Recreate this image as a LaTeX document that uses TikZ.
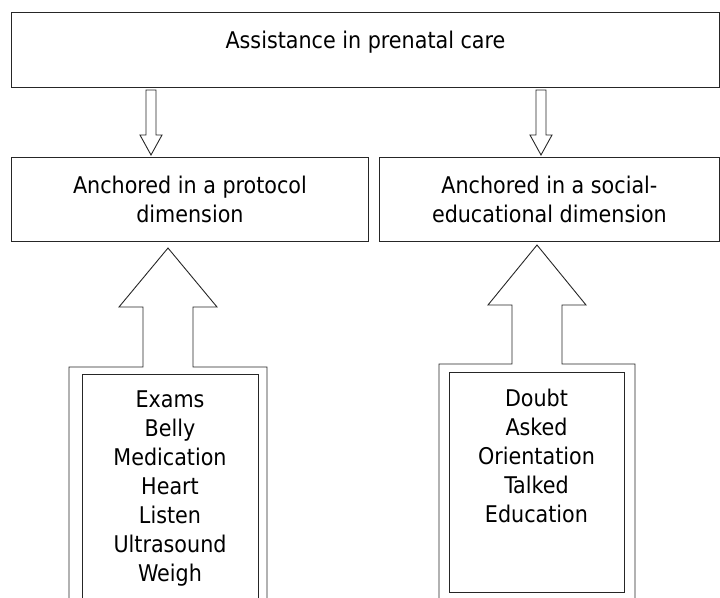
\documentclass[tikz,border=0pt]{standalone}
\usepackage{fontspec}
\setmainfont{DejaVu Sans Condensed}
\usetikzlibrary{positioning}

\tikzset{
  box/.style={draw=black!85,line width=0.9pt,inner sep=0pt},
  frame/.style={draw=black!85,line width=0.9pt},
}

\begin{document}
\begin{tikzpicture}[x=1pt,y=-1pt,font=\fontsize{23}{29}\selectfont]
  \useasboundingbox (0,0) rectangle (720,597);
  \clip (0,0) rectangle (720,597);

  \node[box,anchor=north west,minimum width=708pt,text height=36pt,text depth=39pt] (care) at (11,12) {Assistance in prenatal care};
  \node[box,anchor=north west,minimum width=357pt,minimum height=84pt,align=center] (protocol) at (11,157) {Anchored in a protocol\\dimension};
  \node[box,anchor=north west,minimum width=340pt,minimum height=84pt,align=center] (social) at (379,157) {Anchored in a social-\\educational dimension};

  % hollow arrows from the top box
  \foreach \x in {151,541}
    \draw[frame] (\x,90) ++(-5,0) -- ++(10,0) -- ++(0,45) -- ++(6,0) -- (\x,155) -- ++(-11,-20) -- ++(6,0) -- cycle;

  % arrow frames round the word lists
  \draw[frame] (69,600) -- (69,367) -- (143,367) -- (143,307) -- (119,307) -- (168,248) -- (217,307) -- (193,307) -- (193,367) -- (267,367) -- (267,600);
  \draw[frame] (439,600) -- (439,364) -- (512,364) -- (512,305) -- (488,305) -- (537,245) -- (586,305) -- (562,305) -- (562,364) -- (635,364) -- (635,600);

  \node[box,anchor=north,minimum width=176pt,minimum height=240pt] (protocolframe) at (170,374) {};
  \node[inner sep=0pt,align=center,below=17pt of protocolframe.north] (protocolterms) {Exams\\Belly\\Medication\\Heart\\Listen\\Ultrasound\\Weigh};

  \node[box,anchor=north,minimum width=175pt,minimum height=220pt] (socialframe) at (536.5,372) {};
  \node[inner sep=0pt,align=center,below=16.5pt of socialframe.north] (socialterms) {Doubt\\Asked\\Orientation\\Talked\\Education};
\end{tikzpicture}
\end{document}
